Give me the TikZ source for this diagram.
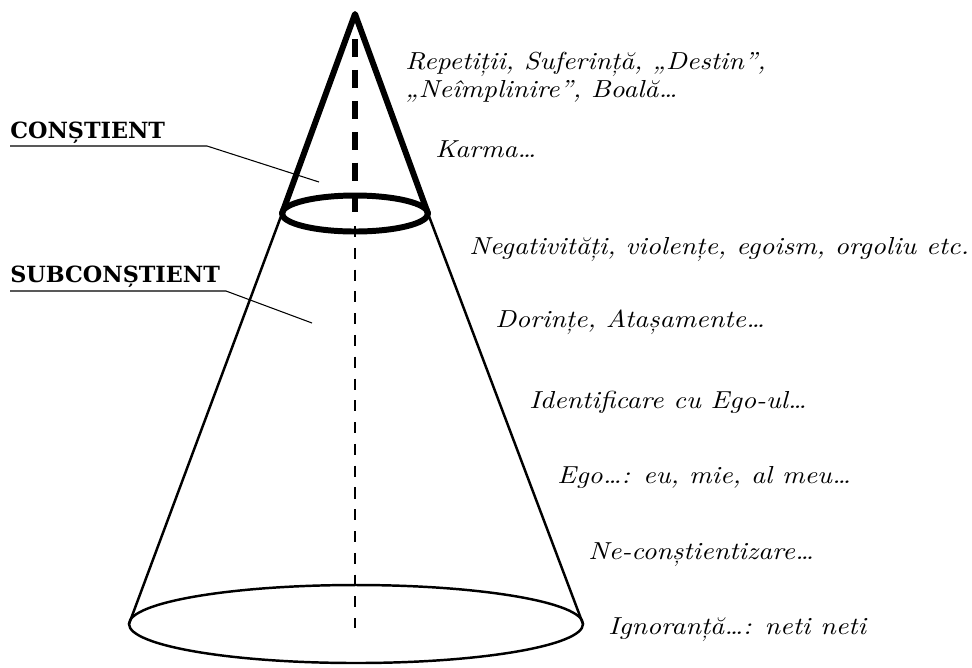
\documentclass[tikz,border=0pt]{standalone}
\usepackage{fontspec}
\setmainfont{DejaVu Serif}
\newfontfamily\lmit[Extension=.otf,FakeStretch=1.12]{lmroman10-italic}
\usetikzlibrary{positioning,calc}
\tikzset{>=latex}

\begin{document}
\begin{tikzpicture}[x=0.02cm,y=-0.02cm,
  lbl/.style={anchor=base west,inner sep=0pt,align=left,font=\fontsize{14}{15.9}\lmit},
  head/.style={anchor=base west,inner sep=0pt,font=\fontsize{12.7}{15.9}\selectfont\bfseries},
  conetop/.style={line width=3.4pt,line join=round},
  conebase/.style={line width=1.4pt},
  leader/.style={line width=0.6pt}]
\useasboundingbox (0,0) rectangle (972,667);
\coordinate (apex) at (355,14);
\coordinate (ring) at (355,213.5);
\coordinate (ringL) at (282,213.5);
\coordinate (ringR) at (428,213.5);
\coordinate (base) at (356,624);
\coordinate (baseL) at (129,624);
\coordinate (baseR) at (583,624);
\coordinate (axtop) at (355,39);
\coordinate (axmid) at (355,226);
\coordinate (axbot) at (355,628);
\node[head] (cons) at (10,138) {CONȘTIENT};
\node[head] (subcons) at (10,282) {SUBCONȘTIENT};
\node[lbl] (rep) at (405,97) {Repetiții, Suferință, „Destin”,\\„Neîmplinire”, Boală…};
\node[lbl] (karma) at (435,157) {Karma…};
\node[lbl] (neg) at (469,254) {Negativități, violențe, egoism, orgoliu etc.};
\node[lbl] (dor) at (495,327) {Dorințe, Atașamente…};
\node[lbl] (ident) at (529,408) {Identificare cu Ego-ul…};
\node[lbl] (ego) at (557,483) {Ego…: eu, mie, al meu…};
\node[lbl] (necon) at (588,559) {Ne-conștientizare…};
\node[lbl] (ign) at (608,634) {Ignoranță…: neti neti};
\coordinate (cons-knee) at (207,146);
\coordinate (cons-tip) at (319,182);
\coordinate (subcons-knee) at (226,291);
\coordinate (subcons-tip) at (312,323);
\begin{scope}[conetop]
\draw (ringL) -- (apex) -- (ringR);
\draw (ring) ellipse (73 and 18);
\draw[dash pattern=on 10.2pt off 7.4pt] (axtop) -- (ring);
\end{scope}
\begin{scope}[conebase]
\draw (ringL) -- (baseL);
\draw (ringR) -- (baseR);
\draw (base) ellipse (227 and 39);
\draw[dash pattern=on 6.3pt off 6.1pt] (axmid) -- (axbot);
\end{scope}
\draw[leader] (cons.base west |- cons-knee) -- (cons-knee) -- (cons-tip);
\draw[leader] (subcons.base west |- subcons-knee) -- (subcons-knee) -- (subcons-tip);
%\draw[help lines] (0,0) grid (972,667);
\end{tikzpicture}
\end{document}
